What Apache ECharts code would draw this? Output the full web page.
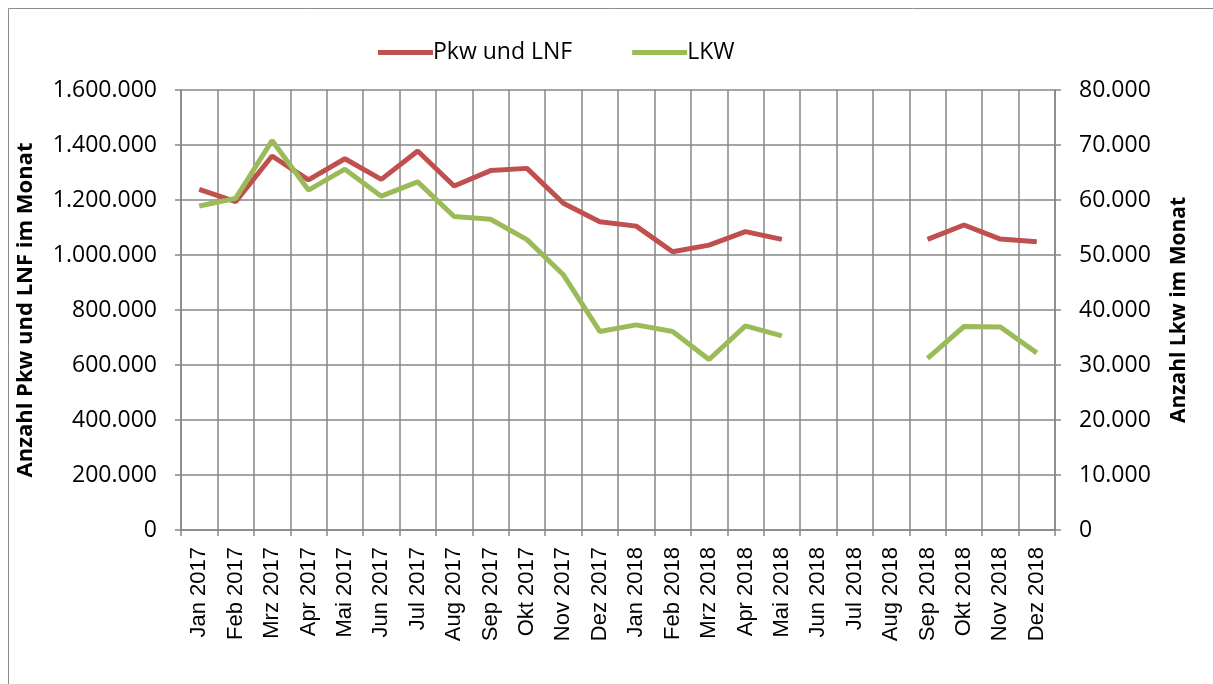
<!DOCTYPE html>
<html>
<head>
<meta charset="utf-8">
<script src="https://cdn.jsdelivr.net/npm/echarts@6/dist/echarts.min.js"></script>
<style>
    html, body { margin: 0; padding: 0; background: #fff; }
    #chart { width: 1213px; height: 684px; }
</style>
</head>
<body>
<div id="chart"></div>
<script>
const months = [
    'Jan 2017', 'Feb 2017', 'Mrz 2017', 'Apr 2017', 'Mai 2017', 'Jun 2017',
    'Jul 2017', 'Aug 2017', 'Sep 2017', 'Okt 2017', 'Nov 2017', 'Dez 2017',
    'Jan 2018', 'Feb 2018', 'Mrz 2018', 'Apr 2018', 'Mai 2018', 'Jun 2018',
    'Jul 2018', 'Aug 2018', 'Sep 2018', 'Okt 2018', 'Nov 2018', 'Dez 2018'
];
const pkwLnf = [
    1239000, 1194000, 1360000, 1273000, 1350000, 1275000,
    1378000, 1251000, 1307000, 1315000, 1188000, 1121000,
    1105000, 1012000, 1036000, 1085000, 1057000, null,
    null, null, 1057000, 1109000, 1058000, 1048000
];
const lkw = [
    58900, 60300, 70800, 61800, 65600, 60700,
    63300, 57000, 56500, 52800, 46400, 36100,
    37300, 36100, 31000, 37100, 35300, null,
    null, null, 31200, 37000, 36900, 32200
];

const fontMain = 'Open Sans, Liberation Sans, sans-serif';
const gridColor = '#878787';

function fmt(v) {
    return String(v).replace(/\B(?=(\d{3})+(?!\d))/g, '.');
}

function init() {
    const chart = echarts.init(document.getElementById('chart'), null, {renderer: 'canvas'});
    const option = {
        animation: false,
        graphic: [{
            type: 'rect',
            shape: {x: 8.5, y: 8.5, width: 1300, height: 1000},
            style: {fill: 'none', stroke: '#8c8c8c', lineWidth: 1}
        }],
        legend: {
            top: 36,
            left: 373,
            itemWidth: 55,
            itemHeight: 5,
            itemGap: 60,
            icon: 'rect',
            textStyle: {fontFamily: fontMain, fontSize: 23, color: '#000', padding: [0, 0, 0, -5]},
            data: ['Pkw und LNF', 'LKW']
        },
        grid: {left: 181, right: 158, top: 90, bottom: 154},
        xAxis: {
            type: 'category',
            data: months,
            boundaryGap: true,
            axisLine: {lineStyle: {color: gridColor, width: 1.5}},
            axisTick: {show: true, length: 6, lineStyle: {color: gridColor, width: 1.5}},
            splitLine: {show: true, lineStyle: {color: gridColor, width: 1.5}},
            axisLabel: {
                rotate: 90, interval: 0, margin: 17,
                fontFamily: 'Liberation Sans', fontSize: 22, color: '#000'
            }
        },
        yAxis: [{
            type: 'value',
            min: 0, max: 1600000, interval: 200000,
            name: 'Anzahl Pkw und LNF im Monat',
            nameLocation: 'middle',
            nameGap: 144,
            nameTextStyle: {fontFamily: fontMain, fontSize: 22, fontWeight: 'bold', color: '#000'},
            axisLine: {show: true, lineStyle: {color: gridColor, width: 1.5}},
            axisTick: {show: true, length: 6, lineStyle: {color: gridColor, width: 1.5}},
            splitLine: {show: true, lineStyle: {color: gridColor, width: 1.5}},
            axisLabel: {
                margin: 24, fontFamily: fontMain, fontSize: 23, color: '#000',
                formatter: fmt
            }
        }, {
            type: 'value',
            min: 0, max: 80000, interval: 10000,
            name: 'Anzahl Lkw im Monat',
            nameLocation: 'middle',
            nameGap: 114,
            nameTextStyle: {fontFamily: fontMain, fontSize: 21, fontWeight: 'bold', color: '#000'},
            axisLine: {show: true, lineStyle: {color: gridColor, width: 1.5}},
            axisTick: {show: true, length: 6, lineStyle: {color: gridColor, width: 1.5}},
            splitLine: {show: false},
            axisLabel: {
                margin: 24, fontFamily: fontMain, fontSize: 23, color: '#000',
                formatter: fmt
            }
        }],
        series: [{
            name: 'Pkw und LNF',
            type: 'line',
            yAxisIndex: 0,
            data: pkwLnf,
            showSymbol: false,
            symbol: 'none',
            connectNulls: false,
            color: '#C0504D',
            lineStyle: {width: 5, color: '#C0504D'}
        }, {
            name: 'LKW',
            type: 'line',
            yAxisIndex: 1,
            data: lkw,
            showSymbol: false,
            symbol: 'none',
            connectNulls: false,
            color: '#9BBB59',
            lineStyle: {width: 5, color: '#9BBB59'}
        }]
    };
    chart.setOption(option);
}

init();
</script>
</body>
</html>
